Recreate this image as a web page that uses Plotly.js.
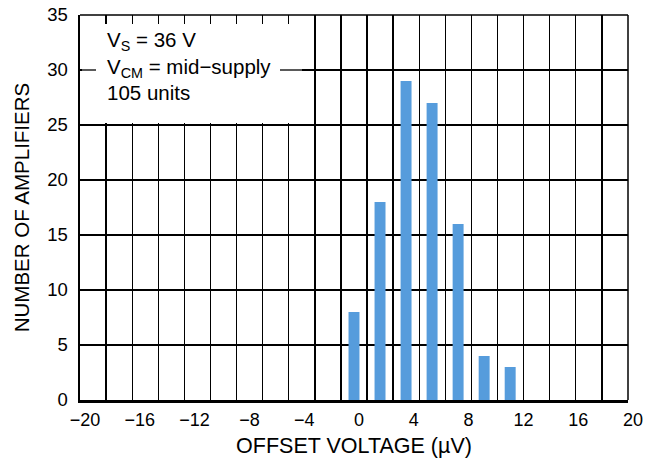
<!DOCTYPE html>
<html>
<head>
<meta charset="utf-8">
<script src="https://cdn.plot.ly/plotly-3.0.1.min.js"></script>
<style>html,body{margin:0;padding:0;background:#fff;}#chart{width:648px;height:459px;}</style>
</head>
<body>
<div id="chart"></div>
<script>
// Histogram bins (offset voltage, µV) and counts
const binCenters = [0, 1.9, 3.8, 5.7, 7.6, 9.5, 11.4];
const counts = [8, 18, 29, 27, 16, 4, 3];
const xTicks = [-20, -16, -12, -8, -4, 0, 4, 8, 12, 16, 20];
const yTicks = [0, 5, 10, 15, 20, 25, 30, 35];
const noteLines = ["V<sub>S</sub> = 36 V", "V<sub>CM</sub> = mid\u2212supply", "105 units"];

const font = 'Liberation Sans, Arial, Helvetica, sans-serif';

const trace = {
  type: 'bar',
  x: binCenters,
  y: counts,
  width: 0.8,
  marker: {color: '#569cdc', line: {width: 0}},
  hoverinfo: 'x+y'
};

// plot area in pixels: x 80..628, y 15..400
const px = v => (v - 80) / 548;
const py = v => (400 - v) / 385;

const layout = {
  width: 648, height: 459,
  margin: {l: 80, r: 20, t: 15, b: 59},
  paper_bgcolor: '#fff', plot_bgcolor: '#fff',
  showlegend: false,
  font: {family: font, color: '#000', size: 18},
  xaxis: {
    range: [-20, 20],
    tickvals: xTicks,
    ticks: '',
    showgrid: false,
    zeroline: false,
    showline: true, linecolor: '#000', linewidth: 2.5,
    minor: {tick0: -20, dtick: 40/21, showgrid: true, gridcolor: '#000', gridwidth: 1.3, ticks: ''},
    tickfont: {size: 18},
    ticklabelstandoff: 2,
    ticklabelshift: 5,
    title: {text: 'OFFSET VOLTAGE (\u00b5V)', font: {size: 21.5}, standoff: 9},
    fixedrange: true
  },
  yaxis: {
    range: [0, 35],
    tickvals: yTicks,
    ticks: '',
    showgrid: true, gridcolor: '#000', gridwidth: 1.3,
    zeroline: false,
    showline: true, linecolor: '#000', linewidth: 2.5,
    tickfont: {size: 18.5},
    ticklabelstandoff: 6,
    title: {text: 'NUMBER OF AMPLIFIERS', font: {size: 20.5}, standoff: 12},
    fixedrange: true
  },
  shapes: [
    {type: 'line', xref: 'paper', yref: 'paper', x0: 0, x1: 1, y0: 1, y1: 1, line: {color: '#000', width: 1.5}},
    {type: 'line', xref: 'paper', yref: 'paper', x0: 1, x1: 1, y0: 0, y1: 1, line: {color: '#000', width: 1.5}},
    // white knockout behind the note
    {type: 'rect', xref: 'paper', yref: 'paper', x0: px(82), x1: px(302), y0: py(123), y1: py(24),
     fillcolor: '#fff', line: {width: 0}, layer: 'above'},
    // the 30 grid line shows on both sides of the middle note line
    {type: 'line', xref: 'paper', yref: 'y', x0: 0, x1: px(96), y0: 30, y1: 30, line: {color: '#000', width: 1.3}, layer: 'above'},
    {type: 'line', xref: 'paper', yref: 'y', x0: px(280), x1: px(302), y0: 30, y1: 30, line: {color: '#000', width: 1.3}, layer: 'above'}
  ],
  annotations: [{
    xref: 'paper', yref: 'paper',
    x: px(106), y: py(27), xanchor: 'left', yanchor: 'top',
    align: 'left',
    text: noteLines.join('<br>'),
    showarrow: false,
    borderpad: 0,
    font: {size: 20.5, family: font, color: '#000'}
  }]
};

Plotly.newPlot('chart', [trace], layout, {displayModeBar: false, staticPlot: true});
</script>
</body>
</html>
